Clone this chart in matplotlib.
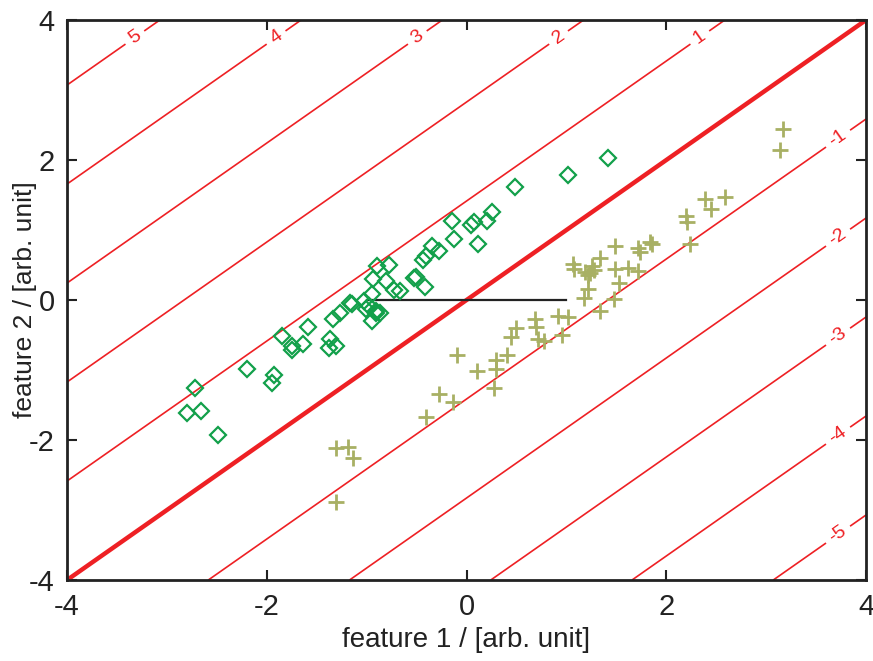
import numpy as np
import matplotlib
matplotlib.use("Agg")
import matplotlib.pyplot as plt

plt.rcParams['font.family'] = ['Liberation Sans', 'DejaVu Sans']
plt.rcParams['axes.unicode_minus'] = False

# class A (diamonds)
a_x = [1.42, 1.02, 0.49, 0.26, 0.20, 0.07, 0.04, 0.11, -0.15, -0.13, -0.35, -0.28,
       -0.41, -0.44, -0.42, -0.53, -0.51, -0.78, -0.81, -0.73, -0.67, -0.87, -0.90,
       -0.94, -0.95, -1.03, -1.15, -1.17, -1.27, -1.34, -1.59, -1.01, -0.91, -0.91,
       -0.95, -0.98, -1.64, -1.75, -1.75, -1.85, -1.37, -1.38, -1.31, -1.93, -1.95,
       -2.20, -2.72, -2.80, -2.66, -2.49]
a_y = [2.03, 1.79, 1.62, 1.26, 1.13, 1.11, 1.07, 0.80, 1.13, 0.87, 0.77, 0.70,
       0.63, 0.57, 0.19, 0.31, 0.33, 0.50, 0.27, 0.14, 0.13, -0.19, 0.49,
       0.30, 0.08, -0.01, -0.05, -0.04, -0.19, -0.27, -0.39, -0.13, -0.15, -0.19,
       -0.30, -0.08, -0.63, -0.65, -0.72, -0.52, -0.56, -0.68, -0.66, -1.07, -1.18,
       -0.98, -1.25, -1.61, -1.58, -1.93]

# class B (crosses)
b_x = [1.49, 1.72, 1.74, 1.84, 1.86, 1.34, 1.07, 1.08, 1.19, 1.24, 1.28, 1.26,
       1.22, 1.49, 1.62, 1.72, 1.53, 1.22, 1.18, 1.48, 1.34, 1.02, 0.92, 0.96,
       0.69, 0.70, 0.50, 0.45, 0.72, 0.78, 0.41, 0.30, 0.30, 0.10, -0.10, 0.28,
       -0.28, -0.14, -0.41, -1.31, -1.19, -1.14, -1.31, 3.17, 3.14, 2.39, 2.59,
       2.45, 2.20, 2.21, 2.24]
b_y = [0.77, 0.74, 0.69, 0.83, 0.80, 0.60, 0.51, 0.45, 0.40, 0.38, 0.43, 0.48,
       0.36, 0.45, 0.46, 0.42, 0.24, 0.16, 0.03, 0.02, -0.15, -0.24, -0.23, -0.50,
       -0.27, -0.38, -0.40, -0.53, -0.55, -0.58, -0.79, -0.85, -0.98, -1.02, -0.79, -1.25,
       -1.34, -1.45, -1.67, -2.12, -2.10, -2.26, -2.88, 2.44, 2.14, 1.45, 1.47,
       1.30, 1.20, 1.11, 0.80]

# distance to the separating line y = x
levels_pos = [1, 2, 3, 4, 5]
levels_neg = [-5, -4, -3, -2, -1]
seg_x = [-1, 1]
seg_y = [0, 0]

fig = plt.figure(figsize=(8.73, 6.61), dpi=100)
ax = fig.add_axes([0.0768, 0.1225, 0.9152, 0.8472])

gx, gy = np.meshgrid(np.linspace(-4, 4, 201), np.linspace(-4, 4, 201))
dist = (gy - gx) / np.sqrt(2)

red = '#ee2024'
cs = ax.contour(gx, gy, dist, levels=levels_neg + levels_pos, colors=red,
                linewidths=1.2, linestyles='solid')
ax.contour(gx, gy, dist, levels=[0], colors=red, linewidths=3.2, linestyles='solid')

# labels: upper ones near the top edge, lower ones near the right edge
pos = [(3.75 - np.sqrt(2) * l, 3.75) for l in levels_pos]
pos += [(3.72, 3.72 + np.sqrt(2) * l) for l in levels_neg]
ax.clabel(cs, fmt='%d', fontsize=14, manual=pos, inline=True, inline_spacing=6)

ax.plot(seg_x, seg_y, color='#222222', lw=1.6, zorder=3)

ax.plot(a_x, a_y, 'D', ms=8, mfc='none', mec='#12a04a', mew=1.6, zorder=4)
ax.plot(b_x, b_y, '+', ms=11, color='#a8b064', mew=2.0, zorder=4)

ax.set_xlim(-4, 4)
ax.set_ylim(-4, 4)
ax.set_xticks([-4, -2, 0, 2, 4])
ax.set_yticks([-4, -2, 0, 2, 4])
ax.tick_params(direction='in', length=7, width=1.5, top=True, right=True,
               labelsize=21, colors='#222222', pad=9)
for s in ax.spines.values():
    s.set_linewidth(2)
    s.set_color('#222222')
ax.set_xlabel('feature 1 / [arb. unit]', fontsize=20, color='#222222', labelpad=5)
ax.set_ylabel('feature 2 / [arb. unit]', fontsize=19, color='#222222')
ax.yaxis.set_label_coords(-0.038, 0.5)

fig.savefig('out.png', dpi=100)
